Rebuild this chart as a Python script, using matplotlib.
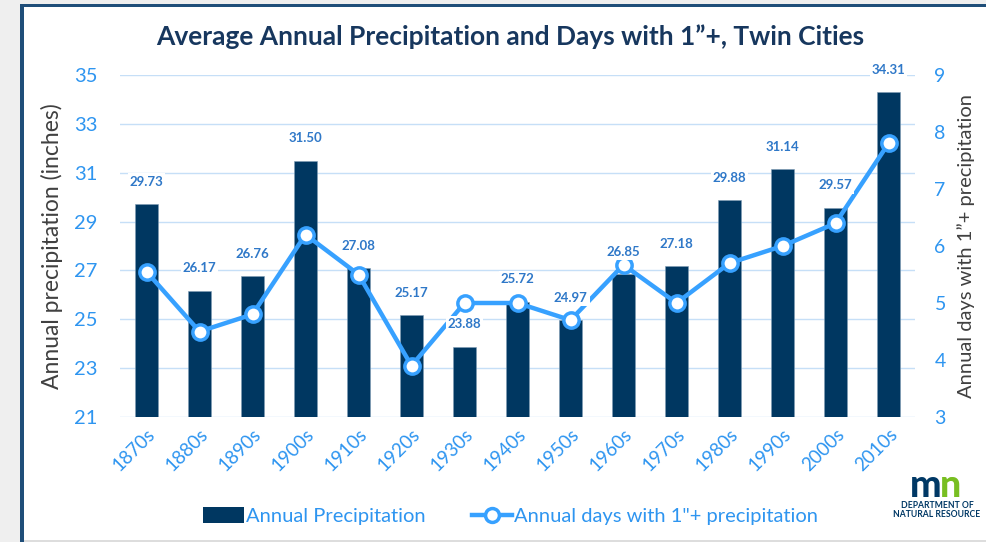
import numpy as np
import matplotlib.pyplot as plt
from matplotlib.patches import Rectangle
from matplotlib.lines import Line2D

decades = ['1870s', '1880s', '1890s', '1900s', '1910s', '1920s', '1930s', '1940s',
           '1950s', '1960s', '1970s', '1980s', '1990s', '2000s', '2010s']
precip = [29.73, 26.17, 26.76, 31.50, 27.08, 25.17, 23.88, 25.72,
          24.97, 26.85, 27.18, 29.88, 31.14, 29.57, 34.31]
days_1in = [5.55, 4.5, 4.8, 6.2, 5.5, 3.9, 5.0, 5.0,
            4.7, 5.67, 5.0, 5.7, 6.0, 6.4, 7.8]

navy = '#003761'
blue = '#37A1FF'
tick_blue = '#2E95F0'
label_blue = '#2F78C8'
grid_blue = '#C6DFF7'
font = 'Lato'

plt.rcParams['font.family'] = [font, 'DejaVu Sans']

fig = plt.figure(figsize=(9.86, 5.42), dpi=100)
fig.patch.set_facecolor('white')

# frame around the slide
fig.patches.append(Rectangle((0, 0), 20 / 986, 1, transform=fig.transFigure,
                             facecolor='#EFEFEF', edgecolor='none', zorder=0))
fig.patches.append(Rectangle((0, 1 - 4 / 542), 1, 4 / 542, transform=fig.transFigure,
                             facecolor='#EFEFEF', edgecolor='none', zorder=0))
fig.patches.append(Rectangle((20 / 986, 0), 4 / 986, 1 - 4 / 542, transform=fig.transFigure,
                             facecolor='#1F4E79', edgecolor='none', zorder=1))
fig.patches.append(Rectangle((20 / 986, 1 - 7 / 542), 1, 3 / 542, transform=fig.transFigure,
                             facecolor='#1F4E79', edgecolor='none', zorder=1))
fig.patches.append(Rectangle((24 / 986, 0), 1, 2 / 542, transform=fig.transFigure,
                             facecolor='#DDDDDD', edgecolor='none', zorder=1))

ax = fig.add_axes([120 / 986, 1 - 417 / 542, 795 / 986, 342 / 542])
x = np.arange(len(decades))

ax.bar(x, precip, width=0.42, color=navy, edgecolor='#7F9DB5', linewidth=0.4,
       bottom=0, zorder=2)
ax.set_ylim(21, 35)
ax.set_xlim(-0.5, len(decades) - 0.5)
ax.set_yticks(np.arange(21, 36, 2))
ax.yaxis.grid(True, color=grid_blue, linewidth=1)
ax.set_axisbelow(True)
for s in ax.spines.values():
    s.set_visible(False)
ax.tick_params(axis='y', length=0, pad=16, labelsize=14.5, labelcolor=tick_blue)
ax.tick_params(axis='x', length=0, pad=6, labelsize=13.5, labelcolor=tick_blue)
ax.set_xticks(x)
ax.set_xticklabels(decades, rotation=45, ha='right', rotation_mode='anchor')
ax.set_ylabel('Annual precipitation (inches)', fontsize=16.5, color='#404040', labelpad=8)

ax2 = ax.twinx()
ax2.plot(x, days_1in, color=blue, linewidth=3.2, marker='o', markersize=11,
         markerfacecolor='white', markeredgecolor=blue, markeredgewidth=2.5, zorder=3)
ax2.set_ylim(3, 9)
ax2.set_yticks(np.arange(3, 10, 1))
for s in ax2.spines.values():
    s.set_visible(False)
ax2.tick_params(axis='y', length=0, pad=14, labelsize=14, labelcolor=tick_blue)
ax2.set_ylabel('Annual days with 1\u201d+ precipitation', fontsize=14.5, color='#404040',
               labelpad=8)

for xi, v in zip(x, precip):
    ax2.annotate(f'{v:.2f}', xy=(xi, 3 + (v - 21) * 6 / 14), xytext=(0, 16),
                 textcoords='offset points', ha='center', va='center', fontsize=9.5,
                 fontweight='bold', color=label_blue, zorder=5,
                 bbox=dict(facecolor='white', edgecolor='none', pad=1.5))

fig.text(0.517, 1 - 37 / 542, 'Average Annual Precipitation and Days with 1\u201d+, Twin Cities',
         ha='center', va='center', fontsize=19, fontweight='bold', color='#17375E')

handles = [Rectangle((0, 0), 1, 1, facecolor=navy, edgecolor='none'),
           Line2D([], [], color=blue, linewidth=3.2, marker='o', markersize=10,
                  markerfacecolor='white', markeredgecolor=blue, markeredgewidth=2.5)]
leg = fig.legend(handles, ['Annual Precipitation', 'Annual days with 1"+ precipitation'],
                 loc='center', bbox_to_anchor=(0.518, 1 - 516 / 542), ncol=2, frameon=False,
                 fontsize=14.5, handlelength=2.0, handleheight=0.8, handletextpad=0.1,
                 columnspacing=2.3)
for t in leg.get_texts():
    t.set_color(tick_blue)

# DNR logo text
fig.text(941 / 986, 1 - 497 / 542, 'm', ha='right', va='baseline', fontsize=27,
         fontweight='black', color='#003865')
fig.text(940 / 986, 1 - 497 / 542, 'n', ha='left', va='baseline', fontsize=27,
         fontweight='black', color='#78BE21')
fig.text(937 / 986, 1 - 501 / 542, 'DEPARTMENT OF\nNATURAL RESOURCE', ha='center',
         va='top', fontsize=6.2, fontweight='bold', color='#003865', linespacing=1.0)

fig.savefig('out.png', dpi=100)
